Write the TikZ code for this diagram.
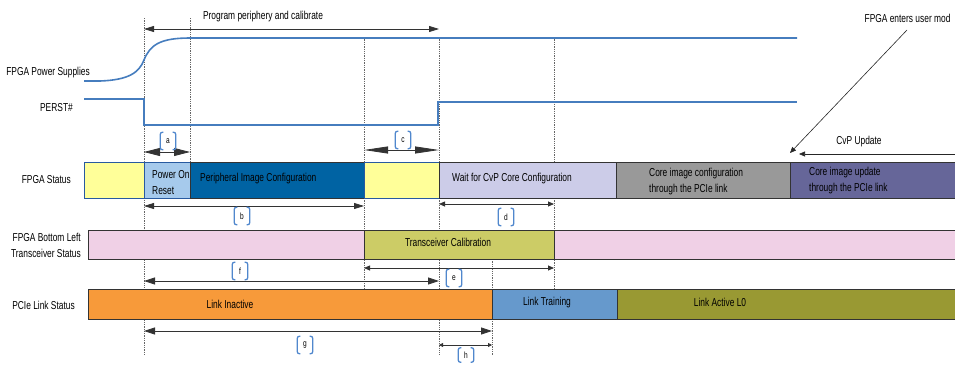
\documentclass[tikz,border=0pt]{standalone}
\usepackage{fontspec}
\setmainfont{Liberation Sans}[FakeStretch=0.73]
\usetikzlibrary{arrows.meta}

\definecolor{sigblue}{RGB}{70,125,190}
\definecolor{segblue}{RGB}{40,90,160}
\definecolor{tagblue}{RGB}{80,135,205}
\definecolor{statyellow}{RGB}{255,255,153}
\definecolor{porblue}{RGB}{166,202,236}
\definecolor{pidark}{RGB}{0,99,163}
\definecolor{waitlav}{RGB}{204,204,232}
\definecolor{coregray}{RGB}{153,153,153}
\definecolor{updpurple}{RGB}{102,102,153}
\definecolor{xpink}{RGB}{240,208,230}
\definecolor{calolive}{RGB}{204,204,102}
\definecolor{inactorange}{RGB}{247,154,58}
\definecolor{trainblue}{RGB}{102,153,204}
\definecolor{activeolive}{RGB}{153,153,51}

\begin{document}
\begin{tikzpicture}
    [ x = 1pt, y = -1pt
    , every node/.style =
      { font = \fontsize{11.5}{16}\selectfont }
    , sidelabel/.style =
      { anchor = east, align = right, inner sep = 0pt }
    , seg/.style =
      { draw = black!80, anchor = north west, inner sep = 0pt, outer sep = 0pt, line width = .6pt }
    , segtext/.style =
      { anchor = west, align = left, inner sep = 0pt }
    , signal/.style =
      { sigblue, line width = 1.6pt }
    , guide/.style =
      { black!60, dash pattern = on 1.3pt off 1pt, line width = .5pt }
    , span/.style 2 args =
      { black!80, line width = .8pt, {Triangle[length=#1,width=#2]}-{Triangle[length=#1,width=#2]} }
    , pointer/.style =
      { black!85, line width = .6pt, -{Triangle[length=6pt,width=5pt]} }
    , tag/.style =
      { minimum width = 15pt, minimum height = 17pt, inner sep = 0pt, font = \fontsize{9}{9}\selectfont }
    , bracket/.style =
      { tagblue, line width = 1.3pt, rounded corners = 2pt }
    ]
    \useasboundingbox (0,0) rectangle (955,364);

    % event times
    \coordinate (xA) at (144,0);
    \coordinate (xB) at (190,0);
    \coordinate (xC) at (364,0);
    \coordinate (xD) at (439,0);
    \coordinate (xE) at (492,0);
    \coordinate (xF) at (554,0);

    \draw [guide] (xA |- 0,18) -- (xA |- 0,355);
    \draw [guide] (xB |- 0,18) -- (xB |- 0,162);
    \draw [guide] (xC |- 0,37) -- (xC |- 0,289);
    \draw [guide] (xD |- 0,37) -- (xD |- 0,355);
    \draw [guide] (xE |- 0,259) -- (xE |- 0,355);
    \draw [guide] (xF |- 0,37) -- (xF |- 0,290);

    % signals
    \node [sidelabel] (psu) at (90,73) {FPGA Power Supplies};
    \node [sidelabel] (perst) at (73,108) {PERST\#};
    \draw [signal] (84,81) -- (100,81) .. controls (128,80) and (139,73) .. (144,60)
      .. controls (150,45) and (160,38) .. (190,38) -- (797,38);
    \draw [signal] (84,99) -- (144,99) -- (144,125) -- (438,125) -- (438,102) -- (797,102);

    \node (prog) at (263,17) {Program periphery and calibrate};
    \draw [span={10pt}{6pt}] (xA |- 0,29) -- (xD |- 0,29);

    \node [anchor = east] (usermode) at (954,18) {FPGA enters user mod};
    \coordinate (um-foot) at (907,30);
    \coordinate (um-tip) at (790,153);
    \draw [pointer] (um-foot) -- (um-tip);

    \node (cvp) at (859,142) {CvP Update};
    \coordinate (cvp-r) at (956,154);
    \coordinate (cvp-l) at (799,154);
    \draw [pointer] (cvp-r) -- (cvp-l);

    % FPGA status
    \node [sidelabel] (fstat) at (71,180) {FPGA Status};
    \node [seg, draw=segblue, fill=statyellow, minimum width=60pt, minimum height=36pt] (st1) at (84,162) {};
    \node [seg, draw=segblue, fill=porblue, minimum width=46pt, minimum height=36pt] (st2) at (144,162) {};
    \node [seg, fill=pidark, minimum width=174pt, minimum height=36pt] (st3) at (190,162) {};
    \node [seg, draw=segblue, fill=statyellow, minimum width=75pt, minimum height=36pt] (st4) at (364,162) {};
    \node [seg, fill=waitlav, minimum width=177pt, minimum height=36pt] (st5) at (439,162) {};
    \node [seg, fill=coregray, minimum width=174pt, minimum height=36pt] (st6) at (616,162) {};
    \node [seg, fill=updpurple, minimum width=175pt, minimum height=36pt] (st7) at (790,162) {};
    \node [segtext] (t-por) at (152,183) {Power On\\Reset};
    \node [segtext] (t-pic) at (200,179) {Peripheral Image Configuration};
    \node [segtext] (t-wait) at (452,179) {Wait for CvP Core Configuration};
    \node [segtext] (t-core) at (649,182) {Core image configuration\\through the PCIe link};
    \node [segtext] (t-upd) at (809,181) {Core image update\\through the PCIe link};

    % transceiver status
    \node [sidelabel] (xcvr) at (81,245) {FPGA Bottom Left\\Transceiver Status};
    \node [seg, fill=xpink, minimum width=276pt, minimum height=29pt] (tr1) at (88,230) {};
    \node [seg, fill=calolive, minimum width=190pt, minimum height=29pt] (tr2) at (364,230) {};
    \node [seg, fill=xpink, minimum width=410pt, minimum height=29pt] (tr3) at (554,230) {};
    \node (t-cal) at (448,242) {Transceiver Calibration};

    % PCIe link status
    \node [sidelabel] (pcie) at (75,305) {PCIe Link Status};
    \node [seg, fill=inactorange, minimum width=404pt, minimum height=30pt] (pc1) at (88,289) {};
    \node [seg, fill=trainblue, minimum width=125pt, minimum height=30pt] (pc2) at (492,289) {};
    \node [seg, fill=activeolive, minimum width=345pt, minimum height=30pt] (pc3) at (617,289) {};
    \node (t-inact) at (230,304) {Link Inactive};
    \node (t-train) at (547,303) {Link Training};
    \node (t-active) at (720,302) {Link Active L0};

    % intervals
    \draw [span={16pt}{8pt}] (xA |- 0,152) -- (xB |- 0,152);
    \draw [span={10pt}{6pt}] (xA |- 0,206) -- (xC |- 0,206);
    \draw [span={24pt}{7pt}] (xC |- 0,150) -- (xD |- 0,150);
    \draw [span={6pt}{5pt}] (xD |- 0,204) -- (xF |- 0,204);
    \draw [span={6pt}{5pt}] (xC |- 0,268) -- (xF |- 0,268);
    \draw [span={11pt}{7pt}] (xA |- 0,281) -- (xD |- 0,281);
    \draw [span={11pt}{7pt}] (xA |- 0,331) -- (xE |- 0,331);
    \draw [span={4pt}{4pt}] (xD |- 0,345) -- (xE |- 0,345);

    \node [tag] (tag-a) at (168,141) {a};
    \node [tag] (tag-b) at (242,216) {b};
    \node [tag] (tag-c) at (403,140) {c};
    \node [tag] (tag-d) at (506,217) {d};
    \node [tag] (tag-e) at (454,278) {e};
    \node [tag] (tag-f) at (240,271) {f};
    \node [tag] (tag-g) at (305,345) {g};
    \node [tag, minimum height=14pt] (tag-h) at (466,355) {h};
    \foreach \t in {a,...,h}
      \draw [bracket]
        ([xshift=3pt]tag-\t.north west) -- (tag-\t.north west) -- (tag-\t.south west) -- ([xshift=3pt]tag-\t.south west)
        ([xshift=-3pt]tag-\t.north east) -- (tag-\t.north east) -- (tag-\t.south east) -- ([xshift=-3pt]tag-\t.south east);
  \end{tikzpicture}
\end{document}
